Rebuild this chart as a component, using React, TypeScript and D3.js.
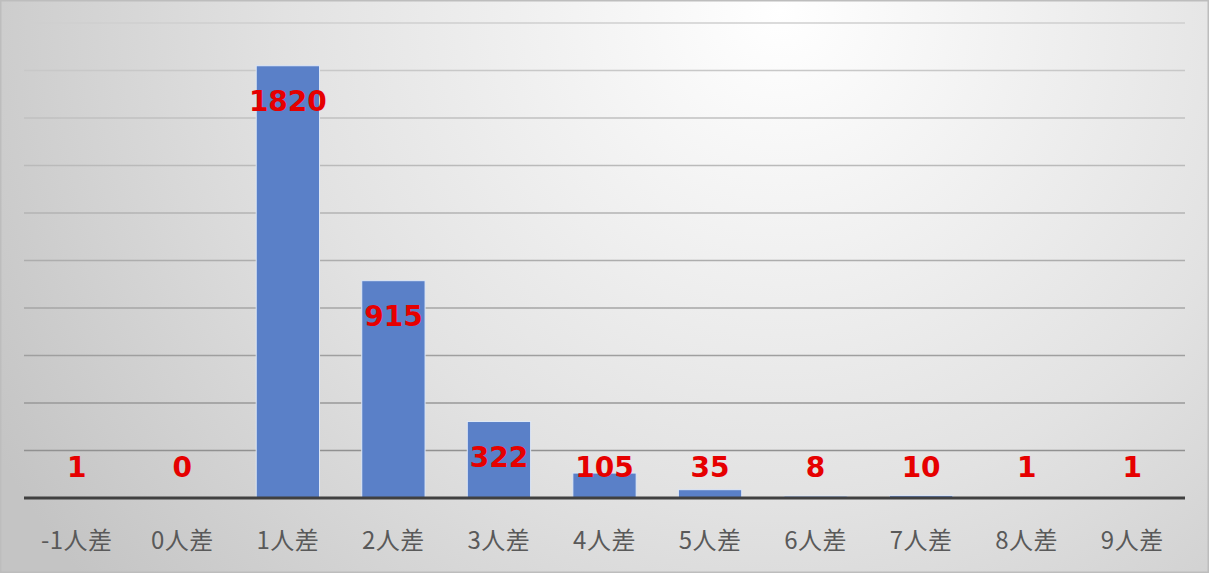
import React from 'react'
import * as d3 from 'd3'

const categories = ['-1人差', '0人差', '1人差', '2人差', '3人差', '4人差', '5人差', '6人差', '7人差', '8人差', '9人差']
const counts = [1, 0, 1820, 915, 322, 105, 35, 8, 10, 1, 1]
const yTicks = [0, 200, 400, 600, 800, 1000, 1200, 1400, 1600, 1800, 2000]

const W = 1209
const H = 573
const left = 24
const right = 1185
const top = 23
const bottom = 498

const App: React.FC = () => {
  const x = d3.scaleBand<string>().domain(categories).range([left, right]).paddingInner(0.4).paddingOuter(0.2)
  const y = d3.scaleLinear().domain([0, 2000]).range([bottom, top])
  // gridlines get darker toward the bottom, like the original
  const gridColor = d3.scaleLinear<string>().domain([top, bottom]).range(['#cfcfcf', '#8a8a8a'])

  return (
    <svg width={W} height={H} style={{ position: 'absolute', left: 0, top: 0 }}>
      <defs>
        <radialGradient id="bg" cx="780" cy="10" r="900" gradientUnits="userSpaceOnUse">
          <stop offset="0" stopColor="#ffffff" />
          <stop offset="0.55" stopColor="#e2e2e2" />
          <stop offset="1" stopColor="#c4c4c4" />
        </radialGradient>
      </defs>
      <rect x={0} y={0} width={W} height={H} fill="url(#bg)" />
      <rect x={0.5} y={0.5} width={W - 1} height={H - 1} fill="none" stroke="#bdbdbd" strokeWidth={2} />

      {yTicks.slice(1).map(t => (
        <line key={t} x1={left} x2={right} y1={y(t)} y2={y(t)} stroke={gridColor(y(t))} strokeWidth={1.5} />
      ))}

      {categories.map((c, i) => (
        <rect
          key={c}
          x={x(c)!}
          y={y(counts[i])}
          width={x.bandwidth()}
          height={bottom - y(counts[i])}
          fill="#5a80c8"
          stroke="#dfe8f6"
          strokeWidth={1}
        />
      ))}

      <line x1={left} x2={right} y1={bottom} y2={bottom} stroke="#404040" strokeWidth={3} />

      {categories.map((c, i) => (
        <text
          key={c}
          x={x(c)! + x.bandwidth() / 2}
          y={Math.min(y(counts[i]) + 35, 467)}
          dy="0.36em"
          textAnchor="middle"
          fontFamily="DejaVu Sans"
          fontWeight="bold"
          fontSize={28}
          fill="#e60000"
        >
          {counts[i]}
        </text>
      ))}

      {categories.map(c => (
        <text
          key={c}
          x={x(c)! + x.bandwidth() / 2}
          y={540}
          dy="0.36em"
          textAnchor="middle"
          fontFamily="'Noto Sans CJK JP'"
          fontSize={24}
          letterSpacing={0.5}
          fill="#595959"
        >
          {c}
        </text>
      ))}
    </svg>
  )
}

export default App
